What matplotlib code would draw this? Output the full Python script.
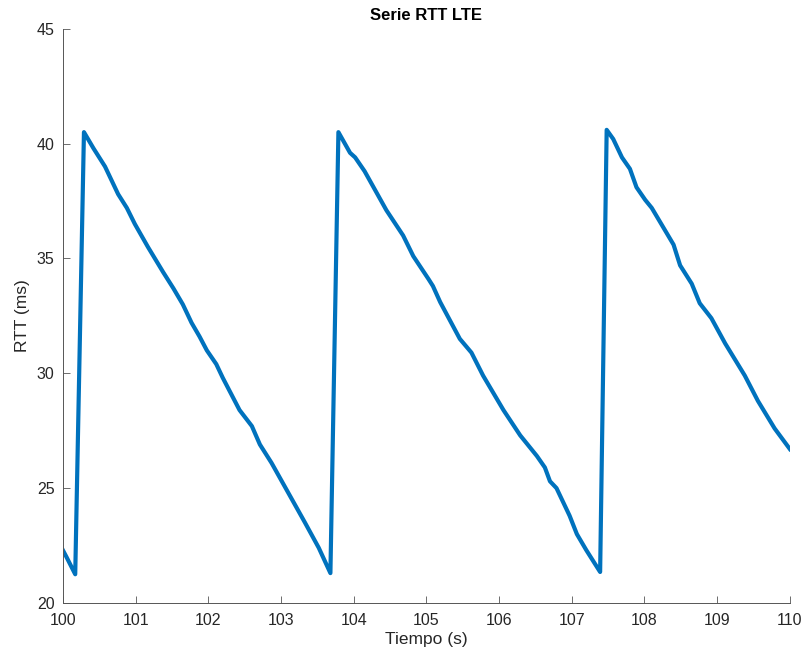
import numpy as np
import matplotlib
matplotlib.use('Agg')
import matplotlib.pyplot as plt

plt.rcParams['font.family'] = ['Liberation Sans', 'DejaVu Sans']

# tiempos (s) y RTT (ms)
t = [100.0, 100.05, 100.17, 100.29, 100.42, 100.58, 100.76, 100.88, 100.99,
     101.17, 101.38, 101.52, 101.65, 101.77, 101.88, 101.98, 102.11, 102.20,
     102.43, 102.60, 102.71, 102.87, 103.10, 103.33, 103.52, 103.68,
     103.79, 103.95, 104.02, 104.15, 104.45, 104.68, 104.82, 105.03, 105.09,
     105.19, 105.46, 105.62, 105.78, 106.06, 106.29, 106.52, 106.63, 106.70,
     106.79, 106.97, 107.07, 107.20, 107.39,
     107.48, 107.57, 107.69, 107.80, 107.89, 108.01, 108.10, 108.40, 108.49,
     108.65, 108.76, 108.92, 109.11, 109.38, 109.56, 109.79, 110.0]
rtt = [22.3, 22.0, 21.25, 40.5, 39.8, 39.0, 37.8, 37.2, 36.5,
       35.5, 34.4, 33.7, 33.0, 32.2, 31.6, 31.0, 30.4, 29.8,
       28.4, 27.7, 26.9, 26.1, 24.8, 23.5, 22.4, 21.3,
       40.5, 39.6, 39.4, 38.8, 37.1, 36.0, 35.1, 34.1, 33.8,
       33.1, 31.5, 30.9, 29.9, 28.4, 27.3, 26.4, 25.9, 25.3,
       25.0, 23.8, 23.0, 22.3, 21.35,
       40.6, 40.2, 39.4, 38.9, 38.1, 37.55, 37.2, 35.6, 34.7,
       33.9, 33.05, 32.4, 31.3, 29.9, 28.8, 27.6, 26.7]

xticks = list(range(100, 111))
yticks = [20, 25, 30, 35, 40, 45]

fig = plt.figure(figsize=(8.06, 6.54), dpi=100)
ax = fig.add_axes([0.078, 0.078, 0.902, 0.878])
ax.plot(t, rtt, color='#0072BD', linewidth=3)

ax.set_xlim(100, 110)
ax.set_ylim(20, 45)
ax.set_xticks(xticks)
ax.set_yticks(yticks)
ax.tick_params(direction='in', length=5, width=0.6, colors='#555555',
               labelcolor='#262626', labelsize=11.5)
ax.tick_params(axis='x', pad=7)
ax.tick_params(axis='y', pad=6)
for s in ['top', 'right']:
    ax.spines[s].set_visible(False)
for s in ['left', 'bottom']:
    ax.spines[s].set_color('#555555')
    ax.spines[s].set_linewidth(0.7)

ax.set_title('Serie RTT LTE', fontsize=12, fontweight='bold', color='black')
ax.set_xlabel('Tiempo (s)', fontsize=12.5, color='#262626', labelpad=3)
ax.set_ylabel('RTT (ms)', fontsize=12.5, color='#262626', labelpad=5)

fig.savefig('out.png', dpi=100)
